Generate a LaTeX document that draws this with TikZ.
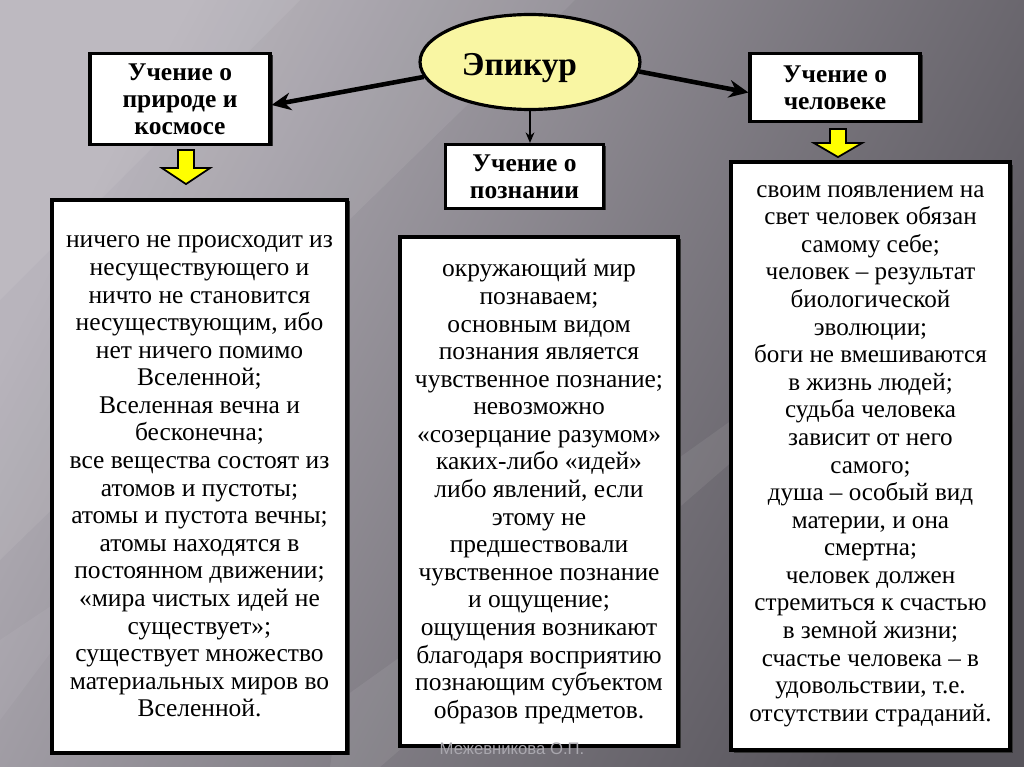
\documentclass[tikz,border=0pt]{standalone}
\usepackage{fontspec}
\setmainfont{Liberation Serif}
\newfontfamily\wmfont{Liberation Sans}
\usetikzlibrary{shapes.geometric,calc,arrows.meta}
\definecolor{bgA}{HTML}{B3AFB7}
\definecolor{bgB}{HTML}{57545B}
\definecolor{elly}{HTML}{F9F6A3}
\definecolor{ylw}{HTML}{FFFF00}
\definecolor{wm}{HTML}{A9A7AE}
\tikzset{
  boxstyle/.style={draw=black, fill=white, line width=1.8pt, inner sep=0pt, align=center},
  headbox/.style={boxstyle, font=\fontsize{14.5}{15.3}\selectfont\bfseries},
  textbox/.style={boxstyle},
  shadowbox/.style={fill=black!80, draw=none},
  thickarrow/.style={line width=2.6pt, -{Stealth[length=11pt,width=10pt]}},
  thinarrow/.style={line width=0.8pt, -{Stealth[length=6pt,width=5pt]}},
  yarrow/.style={fill=ylw, draw=black, line width=1pt, line join=miter},
  streak/.style={fill=white, opacity=0.07}
}
\begin{document}
\begin{tikzpicture}[x=0.02cm,y=-0.02cm]
\useasboundingbox (0,0) rectangle (1024,767);
% background
\shade[top color=bgA, bottom color=bgB, shading angle=62] (0,0) rectangle (1024,767);
\fill[streak] (0,0) -- (575,0) -- (0,560) -- cycle;
\fill[streak] (0,0) -- (300,0) -- (0,300) -- cycle;
\fill[streak] (340,700) -- (760,400) -- (780,420) -- (380,767) -- (330,767) -- cycle;
\fill[white, opacity=0.05] (0,640) -- (120,560) -- (0,720) -- cycle;

% shadows
\fill[shadowbox] (93,55) rectangle (273,146);
\fill[shadowbox] (753,55) rectangle (923,123);
\fill[shadowbox] (448,146) rectangle (606,210);
\fill[shadowbox] (55,201) rectangle (350,755);
\fill[shadowbox] (403,239) rectangle (681,748);
\fill[shadowbox] (734,165) rectangle (1013,753);

% central ellipse
\node[ellipse, draw=black, line width=1.8pt, fill=elly, minimum width=4.4cm, minimum height=1.9cm, inner sep=0pt,
      font=\fontsize{19}{22}\selectfont\bfseries] (epi) at (530,62) {\smash{\raisebox{-0.27cm}{Эпикур}}\kern0.42cm};

% heading boxes
\node[headbox, minimum width=3.6cm, minimum height=1.82cm] (lhead) at (180,99) {Учение о\\природе и\\космосе};
\node[headbox, minimum width=3.4cm, minimum height=1.36cm] (rhead) at (835,87.5) {Учение о\\человеке};
\node[headbox, minimum width=3.16cm, minimum height=1.28cm] (mhead) at (524.5,176.5) {Учение о\\познании};

% content boxes
\node[textbox, minimum width=5.9cm, minimum height=11.06cm, font=\fontsize{14.5}{15.7}\selectfont] (ltext) at (199.5,476.5) {ничего не происходит из\\несуществующего и\\ничто не становится\\несуществующим, ибо\\нет ничего помимо\\Вселенной;\\Вселенная вечна и\\бесконечна;\\все вещества состоят из\\атомов и пустоты;\\атомы и пустота вечны;\\атомы находятся в\\постоянном движении;\\«мира чистых идей не\\существует»;\\существует множество\\материальных миров во\\Вселенной.};
\node[textbox, minimum width=5.56cm, minimum height=10.18cm, font=\fontsize{14.5}{15.7}\selectfont] (mtext) at (539,491.5) {окружающий мир\\познаваем;\\основным видом\\познания является\\чувственное познание;\\невозможно\\«созерцание разумом»\\каких-либо «идей»\\либо явлений, если\\этому не\\предшествовали\\чувственное познание\\и ощущение;\\ощущения возникают\\благодаря восприятию\\познающим субъектом\\образов предметов.};
\node[textbox, minimum width=5.58cm, minimum height=11.76cm, font=\fontsize{14.3}{15.7}\selectfont] (rtext) at (870.5,456) {своим появлением на\\свет человек обязан\\самому себе;\\человек – результат\\биологической\\эволюции;\\боги не вмешиваются\\в жизнь людей;\\судьба человека\\зависит от него\\самого;\\душа – особый вид\\материи, и она\\смертна;\\человек должен\\стремиться к счастью\\в земной жизни;\\счастье человека – в\\удовольствии, т.е.\\отсутствии страданий.};

% connectors
\draw[thickarrow] (epi.188) -- ($(lhead.east)+(0,6)$);
\draw[thickarrow] (epi.-5) -- ($(rhead.west)+(0,5)$);
\draw[thinarrow] (epi.south) -- (mhead.north -| epi.south);

% yellow block arrows
\coordinate (ya) at ($(lhead.south)+(6,4)$);
\coordinate (yb) at ($(rhead.south)+(3,6)$);
\draw[yarrow] ($(ya)+(-8,0)$) -- ($(ya)+(8,0)$) -- ($(ya)+(8,18)$) -- ($(ya)+(24,18)$) -- ($(ya)+(0,34)$)
   -- ($(ya)+(-24,18)$) -- ($(ya)+(-8,18)$) -- cycle;
\draw[yarrow] ($(yb)+(-8,0)$) -- ($(yb)+(8,0)$) -- ($(yb)+(8,14)$) -- ($(yb)+(24,14)$) -- ($(yb)+(0,28)$)
   -- ($(yb)+(-24,14)$) -- ($(yb)+(-8,14)$) -- cycle;

% watermark
\node[text=wm, font=\wmfont\fontsize{9.5}{11}\selectfont, inner sep=0pt] (wmark) at (512,749) {Межевникова О.П.};
\end{tikzpicture}
\end{document}
